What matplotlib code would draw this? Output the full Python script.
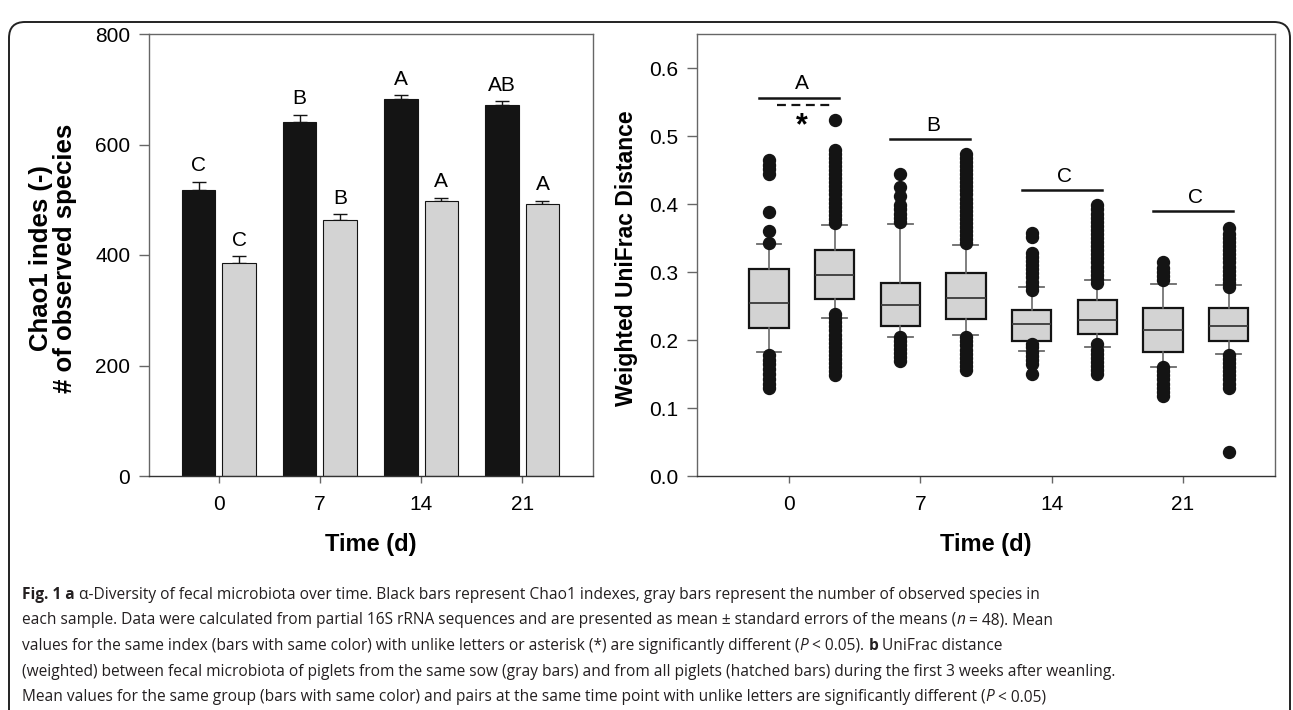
import matplotlib
matplotlib.use('Agg')
import matplotlib.pyplot as plt
from matplotlib.patches import FancyBboxPatch
from matplotlib.transforms import IdentityTransform

plt.rcParams['font.family'] = ['Liberation Sans', 'DejaVu Sans']

# ---- panel a: alpha diversity (bars) ----
days = ['0', '7', '14', '21']
chao1 = [518, 640, 682, 671]
chao1_se = [15, 14, 7, 7]
observed = [386, 464, 498, 493]
observed_se = [12, 10, 6, 5]
chao1_letters = ['C', 'B', 'A', 'AB']
observed_letters = ['C', 'B', 'A', 'A']

# ---- panel b: weighted UniFrac (boxes), order: d0 sow, d0 all, d7 sow, ... ----
box_q1 = [0.217, 0.261, 0.221, 0.231, 0.199, 0.209, 0.183, 0.199]
box_med = [0.254, 0.296, 0.252, 0.262, 0.224, 0.230, 0.215, 0.221]
box_q3 = [0.304, 0.332, 0.284, 0.298, 0.244, 0.259, 0.247, 0.247]
whisk_lo = [0.182, 0.233, 0.204, 0.208, 0.184, 0.190, 0.161, 0.180]
whisk_hi = [0.341, 0.369, 0.370, 0.339, 0.278, 0.288, 0.283, 0.281]

fliers_d0_sow = [0.130, 0.136, 0.143, 0.150, 0.157, 0.164, 0.171, 0.178,
                 0.342, 0.360, 0.388, 0.444, 0.451, 0.458, 0.465]
fliers_d0_all = [0.148, 0.154, 0.160, 0.166, 0.172, 0.178, 0.184, 0.190,
                 0.196, 0.202, 0.208, 0.214, 0.220, 0.226, 0.232, 0.238,
                 0.372, 0.378, 0.384, 0.390, 0.396, 0.402, 0.408, 0.414,
                 0.420, 0.426, 0.432, 0.438, 0.444, 0.450, 0.456, 0.462,
                 0.468, 0.474, 0.480, 0.524]
fliers_d7_sow = [0.169, 0.175, 0.181, 0.187, 0.193, 0.199, 0.205,
                 0.374, 0.380, 0.386, 0.392, 0.398, 0.412, 0.425, 0.444]
fliers_d7_all = [0.156, 0.162, 0.168, 0.174, 0.180, 0.186, 0.192, 0.198,
                 0.204, 0.342, 0.348, 0.354, 0.360, 0.366, 0.372, 0.378,
                 0.384, 0.390, 0.396, 0.402, 0.408, 0.414, 0.420, 0.426,
                 0.432, 0.438, 0.444, 0.450, 0.456, 0.462, 0.468, 0.474]
fliers_d14_sow = [0.150, 0.165, 0.171, 0.177, 0.183, 0.189, 0.194,
                  0.274, 0.280, 0.286, 0.292, 0.298, 0.304, 0.310, 0.316,
                  0.322, 0.328, 0.351, 0.357]
fliers_d14_all = [0.150, 0.156, 0.162, 0.168, 0.174, 0.180, 0.186, 0.194,
                  0.284, 0.290, 0.296, 0.302, 0.308, 0.314, 0.320, 0.326,
                  0.332, 0.338, 0.344, 0.350, 0.356, 0.362, 0.368, 0.374,
                  0.380, 0.386, 0.392, 0.398]
fliers_d21_sow = [0.118, 0.124, 0.130, 0.136, 0.142, 0.148, 0.154, 0.160,
                  0.288, 0.294, 0.300, 0.306, 0.314]
fliers_d21_all = [0.036, 0.130, 0.136, 0.142, 0.148, 0.154, 0.160, 0.166,
                  0.172, 0.178, 0.278, 0.284, 0.290, 0.296, 0.302, 0.308,
                  0.314, 0.320, 0.326, 0.332, 0.338, 0.344, 0.350, 0.356,
                  0.364]
fliers = [fliers_d0_sow, fliers_d0_all, fliers_d7_sow, fliers_d7_all,
          fliers_d14_sow, fliers_d14_all, fliers_d21_sow, fliers_d21_all]
group_letters = ['A', 'B', 'C', 'C']
bracket_y = [0.556, 0.495, 0.420, 0.389]

W, H = 1293, 710
fig = plt.figure(figsize=(W/100, H/100), dpi=100)

spine_c = '#666666'
tick_fs = 15

# ---------- panel a ----------
ax1 = fig.add_axes([149/W, 1-476/H, 444/W, 442/H])
x = range(len(days))
xb = [i - 0.2 for i in x]
xg = [i + 0.2 for i in x]
ax1.bar(xb, chao1, width=0.33, color='#141414', edgecolor='#141414', linewidth=0.8, zorder=2)
ax1.bar(xg, observed, width=0.33, color='#d3d3d3', edgecolor='#141414', linewidth=0.8, zorder=2)
ax1.errorbar(xb, chao1, yerr=[[0]*4, chao1_se], fmt='none', ecolor='#141414',
             elinewidth=1.0, capsize=5, capthick=1.0, zorder=1)
ax1.errorbar(xg, observed, yerr=[[0]*4, observed_se], fmt='none', ecolor='#141414',
             elinewidth=1.0, capsize=5, capthick=1.0, zorder=1)
for i in x:
    ax1.text(xb[i], chao1[i] + chao1_se[i] + 19, chao1_letters[i], ha='center',
             va='baseline', fontsize=tick_fs)
    ax1.text(xg[i], observed[i] + observed_se[i] + 19, observed_letters[i], ha='center',
             va='baseline', fontsize=tick_fs)
ax1.set_xlim(-0.69, 3.7)
ax1.set_ylim(0, 800)
ax1.set_yticks([0, 200, 400, 600, 800])
ax1.set_xticks(list(x))
ax1.set_xticklabels(days)

# ---------- panel b ----------
ax2 = fig.add_axes([697/W, 1-476/H, 578/W, 442/H])
pos = []
for i in range(4):
    pos += [i - 0.152, i + 0.347]
stats = []
for k in range(8):
    stats.append(dict(med=box_med[k], q1=box_q1[k], q3=box_q3[k],
                      whislo=whisk_lo[k], whishi=whisk_hi[k], fliers=fliers[k]))
ax2.bxp(stats, positions=pos, widths=0.30, patch_artist=True, manage_ticks=False,
        capwidths=0.19,
        boxprops=dict(facecolor='#d3d3d3', edgecolor='#141414', linewidth=1.6),
        medianprops=dict(color='#3a3a3a', linewidth=1.3),
        whiskerprops=dict(color='#6a6a6a', linewidth=1.2),
        capprops=dict(color='#6a6a6a', linewidth=1.3),
        flierprops=dict(marker='o', markerfacecolor='#141414',
                        markeredgecolor='#141414', markersize=8.6))
for i in range(4):
    c = i + 0.097
    ax2.plot([c - 0.325, c + 0.285], [bracket_y[i]] * 2, color='#141414', lw=1.8)
    ax2.text(c, bracket_y[i] + 0.013, group_letters[i], ha='center', va='baseline',
             fontsize=tick_fs)
ax2.plot([-0.09, 0.31], [0.545, 0.545], color='#141414', lw=1.6, ls=(0, (4, 2.5)))
ax2.text(0.10, 0.515, '*', ha='center', va='center', fontsize=22, fontweight='bold')
ax2.set_xlim(-0.70, 3.70)
ax2.set_ylim(0, 0.65)
ax2.set_yticks([0.0, 0.1, 0.2, 0.3, 0.4, 0.5, 0.6])
ax2.set_yticklabels(['%.1f' % v for v in [0.0, 0.1, 0.2, 0.3, 0.4, 0.5, 0.6]])
ax2.set_xticks(range(4))
ax2.set_xticklabels(days)

for ax in (ax1, ax2):
    for s in ax.spines.values():
        s.set_color(spine_c)
        s.set_linewidth(1.0)
    ax.spines['bottom'].set_color('#333333')
    ax.tick_params(axis='y', direction='out', length=7, width=1.0, color=spine_c,
                   labelsize=tick_fs, pad=6.5)
    ax.tick_params(axis='x', direction='out', length=5, width=1.0, color=spine_c,
                   labelsize=tick_fs, pad=9)

# axis titles
fig.text(53/W, 1-258/H, 'Chao1 indes (-)\n# of observed species', rotation=90,
         ha='center', va='center', multialignment='center', fontsize=18.5,
         fontweight='bold', linespacing=0.95)
fig.text(627/W, 1-258/H, 'Weighted UniFrac Distance', rotation=90, ha='center',
         va='center', fontsize=16.5, fontweight='bold')
fig.text(371/W, 1-545/H, 'Time (d)', ha='center', va='center', fontsize=17,
         fontweight='bold')
fig.text(986/W, 1-545/H, 'Time (d)', ha='center', va='center', fontsize=17,
         fontweight='bold')

# border
fig.add_artist(FancyBboxPatch((9, -40), 1281, 739 - 11, transform=IdentityTransform(),
                              boxstyle='round,pad=0,rounding_size=16',
                              facecolor='none', edgecolor='#222222', linewidth=1.4))

# caption
cap_fs = 11.2
cap_font = 'Open Sans'
cap_col = '#231f20'
renderer = fig.canvas.get_renderer()


def run_width(s, weight, style):
    t1 = fig.text(0, 0, '|' + s + '|', fontsize=cap_fs, family=cap_font,
                  fontweight=weight, fontstyle=style)
    t2 = fig.text(0, 0, '||', fontsize=cap_fs, family=cap_font,
                  fontweight=weight, fontstyle=style)
    w = t1.get_window_extent(renderer).width - t2.get_window_extent(renderer).width
    t1.remove()
    t2.remove()
    return w


def put_line(ybase, runs, x0=22):
    xp = x0
    for s, weight, style in runs:
        fig.text(xp/W, 1-ybase/H, s, fontsize=cap_fs, family=cap_font,
                 fontweight=weight, fontstyle=style, color=cap_col, va='baseline')
        xp += run_width(s, weight, style)


N, B, I = 'normal', 'bold', 'italic'
caption = [
    [('Fig. 1 a', B, N),
     (' \u03b1-Diversity of fecal microbiota over time. Black bars represent Chao1 indexes, '
      'gray bars represent the number of observed species in', N, N)],
    [('each sample. Data were calculated from partial 16S rRNA sequences and are presented as '
      'mean \u00b1 standard errors of the means (', N, N), ('n', N, I), (' = 48). Mean', N, N)],
    [('values for the same index (bars with same color) with unlike letters or asterisk (*) '
      'are significantly different (', N, N), ('P', N, I), (' < 0.05). ', N, N),
     ('b', B, N), (' UniFrac distance', N, N)],
    [('(weighted) between fecal microbiota of piglets from the same sow (gray bars) and from '
      'all piglets (hatched bars) during the first 3 weeks after weanling.', N, N)],
    [('Mean values for the same group (bars with same color) and pairs at the same time point '
      'with unlike letters are significantly different (', N, N), ('P', N, I), (' < 0.05)', N, N)],
]
for k, line in enumerate(caption):
    put_line(599 + 25.5 * k, line)

fig.savefig('out.png', dpi=100)
